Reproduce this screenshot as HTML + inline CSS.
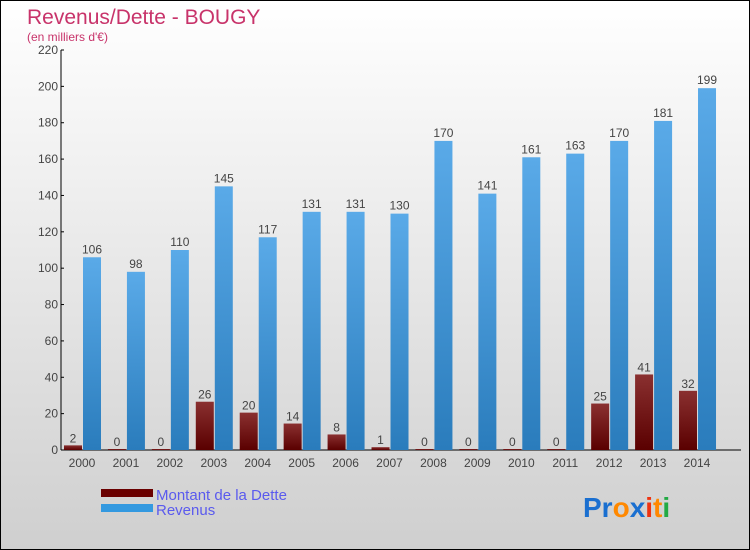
<!DOCTYPE html>
<html><head><meta charset="utf-8"><style>
html,body{margin:0;padding:0}
body{width:750px;height:550px;overflow:hidden;font-family:"Liberation Sans",sans-serif}
#wrap{position:relative;width:748px;height:548px;border:1px solid #000;background:linear-gradient(#ffffff,#cfcfcf)}
</style></head><body>
<div id="wrap">
<svg id="chart" width="748" height="548" style="position:absolute;left:0;top:0">
<defs>
<linearGradient id="gRev" x1="0" x2="0" y1="0" y2="1"><stop offset="0" stop-color="#5aaae8"/><stop offset="1" stop-color="#2a7cbc"/></linearGradient>
<linearGradient id="gDebt" x1="0" x2="0" y1="0" y2="1"><stop offset="0" stop-color="#8a3030"/><stop offset="1" stop-color="#5a0000"/></linearGradient>
</defs>
<text x="26" y="23" font-size="21" fill="#c8336a">Revenus/Dette - BOUGY</text>
<text x="26" y="40" font-size="12" fill="#c8336a">(en milliers d'€)</text>
<g id="axes"></g>
<g id="bars"></g>
<g>
<rect x="100" y="488" width="52" height="8" fill="#6a0000"/>
<text x="155" y="499" font-size="15" fill="#5a5aee">Montant de la Dette</text>
<rect x="100" y="503" width="52" height="8" fill="#3399e0"/>
<text x="155" y="514" font-size="15" fill="#5a5aee">Revenus</text>
</g>
<g font-size="28" font-weight="bold">
<text x="582" y="516"><tspan fill="#1a6fd0">Pr</tspan><tspan fill="#ff8800">o</tspan><tspan fill="#1a6fd0">x</tspan><tspan fill="#ee3311">i</tspan><tspan fill="#ff8800">t</tspan><tspan fill="#22aa44">i</tspan></text>
</g>
</svg>
</div>
<script>
const years=["2000","2001","2002","2003","2004","2005","2006","2007","2008","2009","2010","2011","2012","2013","2014"];
const dette=[2,0,0,26,20,14,8,1,0,0,0,0,25,41,32];
const revenus=[106,98,110,145,117,131,131,130,170,141,161,163,170,181,199];
const yTicks=[0,20,40,60,80,100,120,140,160,180,200,220];
const NS="http://www.w3.org/2000/svg";
const y0=449,yTop=49,yMax=220;
function yScale(v){return y0-(v/yMax)*(y0-yTop);}
function xCenter(i){return 81+i*43.93;}
function mk(tag,attrs,parent){const e=document.createElementNS(NS,tag);for(const k in attrs)e.setAttribute(k,attrs[k]);parent.appendChild(e);return e;}
const axes=document.getElementById('axes'),bars=document.getElementById('bars');
let ax=mk('line',{x1:60,y1:yTop,x2:60,y2:y0,stroke:'#000'},axes);


let bx=mk('line',{x1:60,y1:y0,x2:740,y2:y0,stroke:'#000'},axes);


yTicks.forEach(t=>{const y=yScale(t);
 mk('line',{x1:60,y1:y,x2:63,y2:y,stroke:'#000'},axes);
 const tx=mk('text',{x:57,y:y+4,'font-size':12,fill:'#444','text-anchor':'end'},axes);tx.textContent=t;
 
 
});
years.forEach((yr,i)=>{const c=xCenter(i);
 const tx=mk('text',{x:c,y:466,'font-size':12,fill:'#444','text-anchor':'middle'},axes);tx.textContent=yr;
 
 
 const dy=yScale(dette[i]);
 const d=mk('rect',{x:c-18,y:dy-1,width:18,height:Math.max(1,y0-dy+1),fill:'url(#gDebt)'},bars);
 
 
 const dl=mk('text',{x:c-9,y:dy-4,'font-size':12,fill:'#444','text-anchor':'middle'},bars);dl.textContent=dette[i];
 
 
 const ry=yScale(revenus[i]);
 const r=mk('rect',{x:c+1,y:ry,width:18,height:y0-ry,fill:'url(#gRev)'},bars);
 
 
 const rl=mk('text',{x:c+10,y:ry-4,'font-size':12,fill:'#444','text-anchor':'middle'},bars);rl.textContent=revenus[i];
 
 
});
</script>
</body></html>
